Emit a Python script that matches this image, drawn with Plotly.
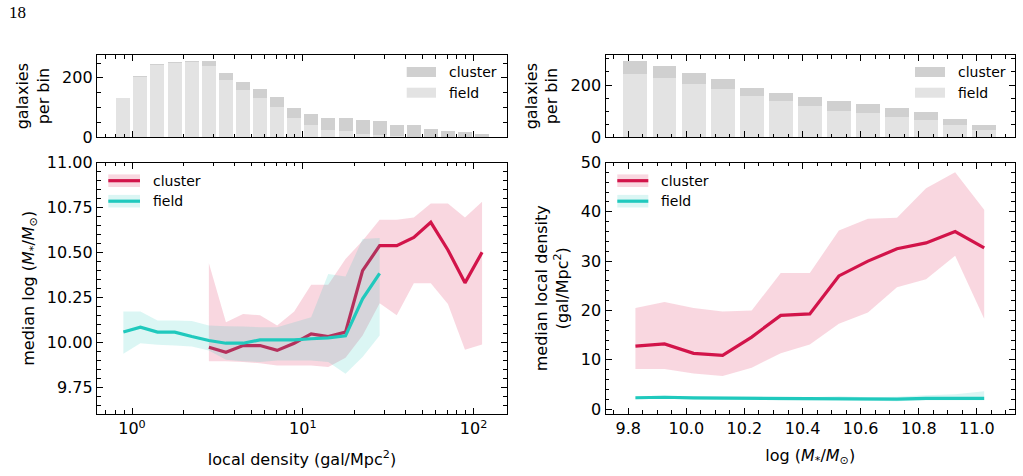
import plotly.graph_objects as go

W, H = 1023, 476

# ---------------- data ----------------
# local-density bin centres (gal/Mpc^2)
dens_centers = [0.89, 1.12, 1.41, 1.78, 2.24, 2.82, 3.55, 4.47, 5.62, 7.08, 8.91,
                11.2, 14.1, 17.8, 22.4, 28.2, 35.5, 44.7, 56.2, 70.8, 89.1, 112.2]
dens_field_counts = [133, 205, 245, 252, 255, 241, 192, 158, 132, 102, 64,
                     43, 25, 20, 11, 8, 5, 2, 0, 0, 0, 0]
dens_cluster_counts = [0, 1, 1, 1, 1, 17, 25, 27, 30, 34, 34,
                       34, 39, 44, 46, 46, 35, 38, 29, 20, 18, 10]

field_dens_x = dens_centers[:16]
field_mass_med = [10.056, 10.083, 10.056, 10.056, 10.031, 10.009, 9.994, 9.994,
                  10.013, 10.013, 10.013, 10.019, 10.024, 10.035, 10.241, 10.383]
field_mass_hi = [10.170, 10.170, 10.120, 10.120, 10.117, 10.093, 10.089, 10.087,
                 10.083, 10.083, 10.111, 10.139, 10.380, 10.365, 10.574, 10.580]
field_mass_lo = [9.935, 9.994, 9.985, 9.981, 9.976, 9.954, 9.902, 9.894,
                 9.889, 9.898, 9.898, 9.898, 9.889, 9.824, 9.917, 10.037]

cluster_dens_x = dens_centers[5:]
cluster_mass_med = [9.972, 9.944, 9.981, 9.981, 9.954, 9.994, 10.046, 10.031, 10.056,
                    10.398, 10.537, 10.537, 10.583, 10.667, 10.513, 10.330, 10.500]
cluster_mass_hi = [10.439, 10.111, 10.157, 10.150, 10.093, 10.170, 10.319, 10.319, 10.463,
                   10.565, 10.681, 10.681, 10.694, 10.772, 10.772, 10.694, 10.781]
cluster_mass_lo = [9.894, 9.894, 9.889, 9.883, 9.870, 9.870, 9.870, 9.861, 9.913,
                   10.037, 10.217, 10.150, 10.328, 10.328, 10.213, 9.957, 9.987]

# stellar-mass bin centres log(M*/Msun)
mass_centers = [9.825, 9.925, 10.025, 10.125, 10.225, 10.325, 10.425,
                10.525, 10.625, 10.725, 10.825, 10.925, 11.025]
mass_field_counts = [242, 227, 205, 185, 159, 139, 121, 101, 93, 79, 66, 48, 28]
mass_cluster_counts = [50, 46, 41, 38, 30, 30, 33, 38, 34, 33, 31, 22, 19]

cluster_dens_med = [12.75, 13.2, 11.3, 10.9, 14.6, 19.0, 19.3, 27.0, 30.0, 32.5, 33.7, 36.0, 32.7]
cluster_dens_hi = [20.5, 21.7, 20.5, 19.8, 20.0, 27.6, 27.6, 36.2, 38.6, 38.8, 44.8, 48.0, 40.4]
cluster_dens_lo = [8.1, 8.1, 7.2, 6.7, 8.4, 11.3, 13.1, 17.3, 19.6, 24.7, 26.3, 31.1, 18.3]

field_dens_med = [2.3, 2.4, 2.25, 2.2, 2.2, 2.1, 2.1, 2.15, 2.0, 2.0, 2.15, 2.15, 2.15]
field_dens_hi = [2.6, 2.7, 2.5, 2.5, 2.5, 2.4, 2.4, 2.6, 2.4, 2.5, 2.8, 3.0, 3.6]
field_dens_lo = [2.0, 2.1, 1.95, 1.9, 1.9, 1.8, 1.8, 1.8, 1.7, 1.6, 1.8, 1.8, 1.8]

# ---------------- styles ----------------
C_CL = "#d2144a"
C_FI = "#20c9bd"
F_CL = "rgba(220,20,70,0.17)"
F_FI = "rgba(32,201,189,0.16)"
B_CL = "#d0d0d0"
B_FI = "#e3e3e3"
FONT = "DejaVu Sans"
LOG_BAR = 0.082      # bar width in decades on the log axis
LIN_BAR = 0.0825     # bar width on the mass axis

fig = go.Figure()

# log-axis bars: plotly bar offsets/widths are in data units, so express
# a fixed width in decades as per-bar offset/width
half = 10 ** (LOG_BAR / 2)
log_off = [c / half - c for c in dens_centers]
log_wid = [c * half - c / half for c in dens_centers]


def band(x, lo, hi, color, xa, ya):
    fig.add_trace(go.Scatter(x=list(x) + list(x)[::-1], y=list(hi) + list(lo)[::-1],
                             fill="toself", fillcolor=color, mode="none",
                             hoverinfo="skip", showlegend=False, xaxis=xa, yaxis=ya))


def line(x, y, color, xa, ya, name):
    fig.add_trace(go.Scatter(x=x, y=y, mode="lines", line=dict(color=color, width=3.2),
                             name=name, showlegend=False, xaxis=xa, yaxis=ya))


# top-left histogram (stacked)
fig.add_trace(go.Bar(x=dens_centers, y=dens_field_counts, offset=log_off, width=log_wid,
                     marker_color=B_FI, marker_line_width=0, showlegend=False,
                     xaxis="x", yaxis="y"))
fig.add_trace(go.Bar(x=dens_centers, y=dens_cluster_counts, offset=log_off, width=log_wid,
                     marker_color=B_CL, marker_line_width=0, showlegend=False,
                     xaxis="x", yaxis="y"))
# top-right histogram (stacked)
fig.add_trace(go.Bar(x=mass_centers, y=mass_field_counts, width=LIN_BAR, marker_color=B_FI,
                     marker_line_width=0, showlegend=False, xaxis="x3", yaxis="y3"))
fig.add_trace(go.Bar(x=mass_centers, y=mass_cluster_counts, width=LIN_BAR, marker_color=B_CL,
                     marker_line_width=0, showlegend=False, xaxis="x3", yaxis="y3"))

# bottom-left
band(cluster_dens_x, cluster_mass_lo, cluster_mass_hi, F_CL, "x2", "y2")
line(cluster_dens_x, cluster_mass_med, C_CL, "x2", "y2", "cluster")
band(field_dens_x, field_mass_lo, field_mass_hi, F_FI, "x2", "y2")
line(field_dens_x, field_mass_med, C_FI, "x2", "y2", "field")

# bottom-right
band(mass_centers, cluster_dens_lo, cluster_dens_hi, F_CL, "x4", "y4")
line(mass_centers, cluster_dens_med, C_CL, "x4", "y4", "cluster")
band(mass_centers, field_dens_lo, field_dens_hi, F_FI, "x4", "y4")
line(mass_centers, field_dens_med, C_FI, "x4", "y4", "field")

# ---------------- axes ----------------
def px(x0, x1):
    return [x0 / W, x1 / W]


def py(y_top, y_bot):
    return [1 - y_bot / H, 1 - y_top / H]


LX = px(97, 507)
RX = px(605.5, 1015)
TY = py(55, 137.3)
BY = py(162.5, 414)

common = dict(showline=True, linecolor="black", linewidth=1.3, mirror="allticks",
              ticks="inside", ticklen=6, tickwidth=1.1, tickcolor="black",
              showgrid=False, zeroline=False, automargin=False,
              tickfont=dict(family=FONT, size=16, color="black"))
minor_common = dict(ticks="inside", ticklen=3.5, tickwidth=1, tickcolor="black", showgrid=False)

log_minor = [0.7, 0.8, 0.9, 2, 3, 4, 5, 6, 7, 8, 9, 20, 30, 40, 50, 60, 70, 80, 90]
title_font = dict(family=FONT, size=16, color="black")

fig.update_layout(
    xaxis=dict(common, type="log", range=[-0.205, 2.196], domain=LX, anchor="y",
               tickvals=[1, 10, 100], showticklabels=False,
               minor=dict(minor_common, tickvals=log_minor)),
    yaxis=dict(common, range=[0, 277], domain=TY, anchor="x", dtick=200, tick0=0,
               minor=dict(minor_common, dtick=50),
               title=dict(text="galaxies<br>per bin", font=title_font, standoff=8)),
    xaxis2=dict(common, type="log", range=[-0.205, 2.196], domain=LX, anchor="y2",
                tickvals=[1, 10, 100],
                ticktext=["10<sup>0</sup>", "10<sup>1</sup>", "10<sup>2</sup>"],
                minor=dict(minor_common, tickvals=log_minor),
                title=dict(text="local density (gal/Mpc<sup>2</sup>)", font=title_font, standoff=16)),
    yaxis2=dict(common, range=[9.6, 11.0], domain=BY, anchor="x2", dtick=0.25, tick0=0,
                tickformat=".2f", minor=dict(minor_common, dtick=0.05),
                title=dict(text="median log (<i>M</i><sub>*</sub>/<i>M</i><sub>⊙</sub>)",
                           font=title_font, standoff=8)),
    xaxis3=dict(common, range=[9.722, 11.131], domain=RX, anchor="y3", dtick=0.2, tick0=9.8,
                showticklabels=False, minor=dict(minor_common, dtick=0.05)),
    yaxis3=dict(common, range=[0, 315], domain=TY, anchor="x3", dtick=200, tick0=0,
                minor=dict(minor_common, dtick=50),
                title=dict(text="galaxies<br>per bin", font=title_font, standoff=8)),
    xaxis4=dict(common, range=[9.722, 11.131], domain=RX, anchor="y4", dtick=0.2, tick0=9.8,
                tickformat=".1f", minor=dict(minor_common, dtick=0.05),
                title=dict(text="log (<i>M</i><sub>*</sub>/<i>M</i><sub>⊙</sub>)", font=title_font,
                           standoff=12)),
    yaxis4=dict(common, range=[-1, 50], domain=BY, anchor="x4", dtick=10, tick0=0,
                minor=dict(minor_common, dtick=2),
                title=dict(text="median local density<br>(gal/Mpc<sup>2</sup>)", font=title_font, standoff=8)),
    barmode="stack",
    width=W, height=H,
    margin=dict(l=0, r=0, t=0, b=0),
    paper_bgcolor="white", plot_bgcolor="white",
    showlegend=False,
    font=dict(family=FONT, size=16, color="black"),
)

# ---------------- manual legends ----------------
def X(p):
    return p / W


def Y(p):
    return 1 - p / H


shapes = []
annotations = []


def patch_entry(x0, x1, yc, color, text, hh=5, line_color=None):
    shapes.append(dict(type="rect", xref="paper", yref="paper", x0=X(x0), x1=X(x1),
                       y0=Y(yc + hh), y1=Y(yc - hh), fillcolor=color, line=dict(width=0),
                       layer="above"))
    if line_color:
        shapes.append(dict(type="line", xref="paper", yref="paper", x0=X(x0), x1=X(x1),
                           y0=Y(yc), y1=Y(yc), line=dict(color=line_color, width=3.2),
                           layer="above"))
    annotations.append(dict(text=text, xref="paper", yref="paper", x=X(x1 + 11), y=Y(yc),
                            xanchor="left", yanchor="middle", showarrow=False,
                            font=dict(family=FONT, size=14, color="black")))


patch_entry(406.7, 436, 72, B_CL, "cluster")
patch_entry(406.7, 436, 92.7, B_FI, "field")
patch_entry(915, 945, 72, B_CL, "cluster")
patch_entry(915, 945, 92.7, B_FI, "field")
patch_entry(108.3, 140, 180.7, F_CL, "cluster", hh=6.3, line_color=C_CL)
patch_entry(108.3, 140, 201.2, F_FI, "field", hh=6.3, line_color=C_FI)
patch_entry(617.3, 648.3, 180.7, F_CL, "cluster", hh=6.3, line_color=C_CL)
patch_entry(617.3, 648.3, 201.2, F_FI, "field", hh=6.3, line_color=C_FI)

annotations.append(dict(text="18", xref="paper", yref="paper", x=X(7), y=Y(12),
                        xanchor="left", yanchor="middle", showarrow=False,
                        font=dict(family="Liberation Serif", size=17, color="black")))

fig.update_layout(shapes=shapes, annotations=annotations)

fig.write_html("out.html")
